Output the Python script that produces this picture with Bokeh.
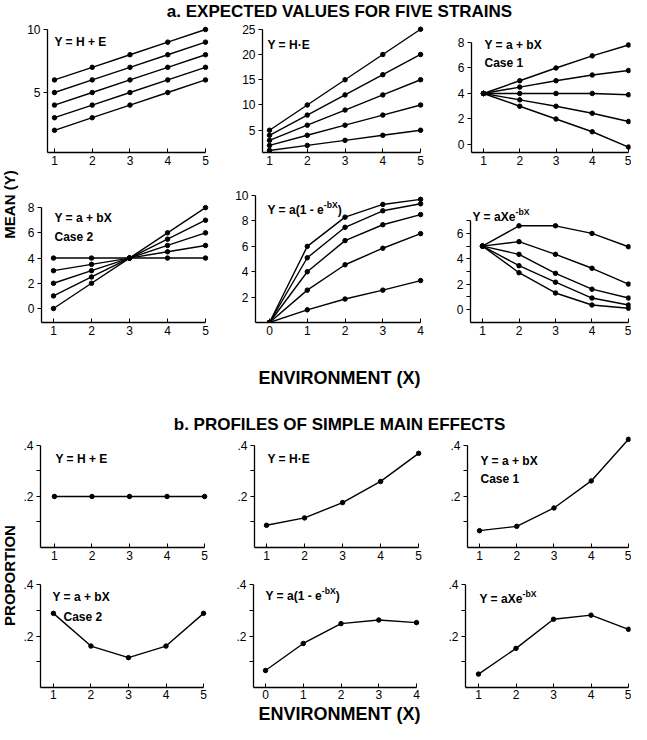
from math import pi
from bokeh.plotting import figure
from bokeh.models import Label, FixedTicker
from bokeh.layouts import row, column
from bokeh.embed import file_html
from bokeh.resources import INLINE

FONT = "Liberation Sans"

# ---------------- data ----------------
env5 = [1, 2, 3, 4, 5]
env04 = [0, 1, 2, 3, 4]

# a. expected values for five strains
a1_strains = [
    [2, 3, 4, 5, 6],
    [3, 4, 5, 6, 7],
    [4, 5, 6, 7, 8],
    [5, 6, 7, 8, 9],
    [6, 7, 8, 9, 10],
]
a2_strains = [
    [1, 2, 3, 4, 5],
    [2, 4, 6, 8, 10],
    [3, 6, 9, 12, 15],
    [4, 8, 12, 16, 20],
    [5, 10, 15, 20, 25],
]
a3_strains = [
    [4, 5, 6, 6.95, 7.8],
    [4, 4.5, 5, 5.45, 5.8],
    [4, 4, 4, 4, 3.9],
    [4, 3.5, 3, 2.45, 1.8],
    [4, 3, 2, 1, -0.2],
]
a4_strains = [
    [4, 4, 4, 4, 4],
    [3, 3.5, 4, 4.5, 5],
    [2, 3, 4, 5, 6],
    [1, 2.5, 4, 5.5, 7],
    [0, 2, 4, 6, 8],
]
a5_strains = [
    [0, 6.0, 8.3, 9.3, 9.7],
    [0, 5.1, 7.5, 8.8, 9.35],
    [0, 4.0, 6.45, 7.7, 8.5],
    [0, 2.55, 4.55, 5.85, 7.0],
    [0, 1.0, 1.85, 2.55, 3.3],
]
a6_strains = [
    [5, 6.6, 6.6, 6.0, 4.95],
    [5, 5.35, 4.35, 3.25, 2.0],
    [5, 4.35, 2.85, 1.6, 0.9],
    [5, 3.45, 2.15, 0.9, 0.35],
    [5, 2.9, 1.3, 0.35, 0.1],
]

# b. profiles of simple main effects
b1_prop = [0.2, 0.2, 0.2, 0.2, 0.2]
b2_prop = [0.087, 0.116, 0.176, 0.259, 0.369]
b3_prop = [0.066, 0.083, 0.155, 0.261, 0.424]
b4_prop = [0.288, 0.161, 0.116, 0.161, 0.288]
b5_prop = [0.066, 0.171, 0.248, 0.262, 0.252]
b6_prop = [0.052, 0.152, 0.265, 0.281, 0.226]

ticks_a1 = [5, 10]
ticks_a2 = [5, 10, 15, 20, 25]
ticks_a3 = [0, 2, 4, 6, 8]
ticks_a5 = [2, 4, 6, 8, 10]
ticks_a6 = [0, 2, 4, 6]
minor_a6 = [1, 3, 5, 7]
ticks_b = [0.2, 0.4]
minor_b = [0.1, 0.3]
labels_b = {0.2: ".2", 0.4: ".4"}

# ---------------- helpers ----------------
W = {'Y': 667, ' ': 278, '=': 584, 'a': 556, '(': 333, '1': 556, '-': 333,
     'e': 556, ')': 333, 'X': 667, 'b': 611, 'H': 722, 'E': 667, '+': 584,
     '\u00b7': 278, 'C': 722, 's': 556, '2': 556}


def tw(txt, size):
    return sum(W.get(c, 556) for c in txt) * size / 1000.0


def add_title(p, parts, x, y, size=12):
    cx = x
    for txt, sup in parts:
        s = size * 0.72 if sup else size
        p.add_layout(Label(x=cx, y=y + (5 if sup else 0), x_units="screen", y_units="screen",
                           text=txt, text_font=FONT, text_font_size=f"{s}px",
                           text_font_style="bold", text_color="black",
                           text_baseline="alphabetic", text_align="left"))
        cx += tw(txt, s)


def panel(w, h, bl, br, bt, bb, xr, yr, xticks, ytop, yticks, yminor=None, ylabels=None, xstand=3):
    p = figure(width=w, height=h, x_range=xr, y_range=yr, output_backend="svg",
               toolbar_location=None, title=None,
               min_border_left=bl, min_border_right=br,
               min_border_top=bt, min_border_bottom=bb)
    p.grid.visible = False
    p.outline_line_color = None
    p.background_fill_color = "white"
    xa = p.xaxis[0]
    xa.ticker = FixedTicker(ticks=xticks)
    xa.bounds = (xr[0], xticks[-1])
    xa.major_tick_in = 4
    xa.major_tick_out = 0
    xa.major_label_standoff = xstand
    ya = p.yaxis[0]
    ya.ticker = FixedTicker(ticks=yticks, minor_ticks=yminor or [])
    ya.bounds = (yr[0], ytop)
    ya.major_tick_in = 0
    ya.major_tick_out = 4
    ya.minor_tick_in = 0
    ya.minor_tick_out = 4
    ya.major_label_standoff = 3
    if ylabels:
        ya.major_label_overrides = ylabels
    for ax in (xa, ya):
        ax.axis_line_color = "black"
        ax.axis_line_width = 1.3
        ax.major_tick_line_color = "black"
        ax.major_label_text_font = FONT
        ax.major_label_text_font_size = "12px"
        ax.major_label_text_color = "black"
    xa.minor_tick_line_color = None
    ya.minor_tick_line_color = "black"
    return p


def draw(p, xs, ys):
    p.line(xs, ys, line_color="black", line_width=1.4)
    p.scatter(xs, ys, size=4.5, color="black")


def textfig(w, h):
    f = figure(width=w, height=h, x_range=(0, w), y_range=(0, h), output_backend="svg",
               toolbar_location=None, title=None, min_border=0,
               x_axis_type=None, y_axis_type=None)
    f.grid.visible = False
    f.outline_line_color = None
    return f


def add_text(f, txt, x, y, size, angle=0):
    f.add_layout(Label(x=x, y=y, text=txt, text_font=FONT, text_font_size=f"{size}px",
                       text_font_style="bold", text_color="black", angle=angle,
                       text_align="center", text_baseline="middle"))


# ---------------- section a ----------------
H1, H2 = 157, 168
p1 = panel(204, H1, 27, 15, 3, 27, (0.815, 5.106), (0.238, 10.32), env5, 10, ticks_a1)
for s in a1_strains:
    draw(p1, env5, s)
add_title(p1, [("Y = H + E", False)], 7, 111)

p2 = panel(216, H1, 38, 15, 3, 27, (0.815, 5.13), (0.594, 25.74), env5, 25, ticks_a2)
for s in a2_strains:
    draw(p2, env5, s)
add_title(p2, [("Y = H\u00b7E", False)], 5, 108)

p3 = panel(191, H1, 31, 1, 3, 27, (0.669, 5.055), (-0.627, 9.33), env5, 8, ticks_a3)
for s in a3_strains:
    draw(p3, env5, s)
add_title(p3, [("Y = a + bX", False)], 13, 108)
add_title(p3, [("Case  1", False)], 13, 90)

p4 = panel(204, H2, 21, 15, 13, 25, (0.684, 5.105), (-1.11, 9.2), env5, 8, ticks_a3)
for s in a4_strains:
    draw(p4, env5, s)
add_title(p4, [("Y = a + bX", False)], 13, 105)
add_title(p4, [("Case  2", False)], 13, 86)

p5 = panel(216, H2, 31, 15, 13, 25, (-0.371, 4.13), (0, 10.24), env04, 10, ticks_a5)
for s in a5_strains:
    draw(p5, env04, s)
add_title(p5, [("Y = a(1 - e", False), ("-bX", True), (")", False)], 12, 113)

p6 = panel(191, H2, 30, 1, 13, 25, (0.671, 5.055), (-1.03, 9.23), env5, 7, ticks_a6, minor_a6)
for s in a6_strains:
    draw(p6, env5, s)
add_title(p6, [("Y = aXe", False), ("-bX", True)], 2, 106)

# ---------------- section b ----------------
H3, H4 = 132, 135
b1 = panel(204, H3, 19, 15, 0, 20, (0.629, 5.13), (0, 0.439), env5, 0.4, ticks_b, minor_b, labels_b)
draw(b1, env5, b1_prop)
add_title(b1, [("Y = H + E", False)], 15, 89)

b2 = panel(216, H3, 30, 15, 0, 20, (0.684, 5.18), (0, 0.439), env5, 0.4, ticks_b, minor_b, labels_b)
draw(b2, env5, b2_prop)
add_title(b2, [("Y = H\u00b7E", False)], 13, 89)

b3 = panel(191, H3, 27, 1, 0, 20, (0.678, 5.054), (0, 0.439), env5, 0.4, ticks_b, minor_b, labels_b)
draw(b3, env5, b3_prop)
add_title(b3, [("Y = a + bX", False)], 13, 87)
add_title(b3, [("Case  1", False)], 13, 69)

b4 = panel(204, H4, 19, 15, 8, 15, (0.656, 5.159), (0, 0.435), env5, 0.4, ticks_b, minor_b, labels_b, 2)
draw(b4, env5, b4_prop)
add_title(b4, [("Y = a + bX", False)], 12, 91)
add_title(b4, [("Case  2", False)], 23, 71)

b5 = panel(216, H4, 29, 15, 8, 15, (-0.318, 4.238), (0, 0.435), env04, 0.4, ticks_b, minor_b, labels_b, 2)
draw(b5, env04, b5_prop)
add_title(b5, [("Y = a(1 - e", False), ("-bX", True), (")", False)], 12, 92)

b6 = panel(191, H4, 25, 1, 8, 15, (0.653, 5.053), (0, 0.435), env5, 0.4, ticks_b, minor_b, labels_b, 2)
draw(b6, env5, b6_prop)
add_title(b6, [("Y = aXe", False), ("-bX", True)], 14, 89)

# ---------------- free texts ----------------
TW = 631
title_a = textfig(TW, 22)
add_text(title_a, "a. EXPECTED VALUES FOR FIVE STRAINS", 339, 11, 17)

mean_f = textfig(20, H1 + H2)
add_text(mean_f, "MEAN (Y)", 9, 143, 15, angle=pi / 2)

mid = textfig(TW, 88)
add_text(mid, "ENVIRONMENT (X)", 339, 58, 18)
add_text(mid, "b. PROFILES OF SIMPLE MAIN EFFECTS", 339, 11, 17)

prop_f = textfig(20, H3 + H4)
add_text(prop_f, "PROPORTION", 9, 127, 15, angle=pi / 2)

env_b = textfig(TW, 22)
add_text(env_b, "ENVIRONMENT (X)", 339, 11, 18)

layout = column(
    title_a,
    row(mean_f, column(row(p1, p2, p3), row(p4, p5, p6))),
    mid,
    row(prop_f, column(row(b1, b2, b3), row(b4, b5, b6))),
    env_b,
)

open("out.html", "w").write(file_html(layout, INLINE))
